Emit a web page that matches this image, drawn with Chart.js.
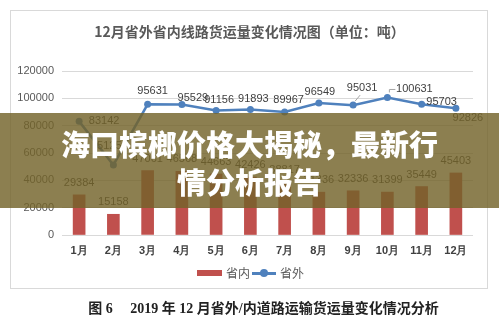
<!DOCTYPE html>
<html>
<head>
<meta charset="utf-8">
<script src="https://cdn.jsdelivr.net/npm/chart.js@4.4.1/dist/chart.umd.min.js"></script>
<style>
  body { margin: 0; background: #fff; width: 499px; height: 323px; overflow: hidden; position: relative; font-family: "Liberation Sans", "Noto Sans CJK SC", sans-serif; }
  #frame { position: absolute; left: 10px; top: 10px; width: 476px; height: 277px; border: 1px solid #d9d9d9; }
  #wrap { position: absolute; left: 0; top: 0; width: 499px; height: 290px; }
  #title { position: absolute; left: 0; top: 21px; width: 499px; text-align: center; line-height: 18px;
           font: bold 14px "Noto Sans CJK SC", sans-serif; color: #595959; }
  #legend { position: absolute; top: 265px; left: 0; width: 499px; height: 16px; font: 12px "Noto Sans CJK SC", sans-serif; color: #595959; }
  #legend span { position: absolute; top: 0; line-height: 16px; }
  #legend i { position: absolute; display: block; }
  #caption { position: absolute; left: 14px; width: 499px; top: 297px; text-align: center; white-space: pre;
             font: bold 14px "Liberation Serif", "Noto Sans CJK SC", serif; color: #222; }
  #banner { position: absolute; left: 0; top: 113px; width: 499px; height: 95px; background: rgba(115, 99, 42, 0.82);
            color: #fff; text-align: center; font: 900 29px "Noto Sans CJK SC", sans-serif; line-height: 38px; padding-top: 11px; box-sizing: border-box; }
</style>
</head>
<body>
<div id="frame"></div>
<div id="wrap"><canvas id="chart" width="499" height="290"></canvas></div>
<div id="title">12月省外省内线路货运量变化情况图（单位：吨）</div>
<div id="legend">
  <i style="left:197px; top:5px; width:25px; height:6px; background:#c0504d"></i>
  <span style="left:226px">省内</span>
  <i style="left:252px; top:7px; width:24px; height:2.5px; background:#4f81bd"></i>
  <i style="left:260px; top:4px; width:8px; height:8px; border-radius:50%; background:#4f81bd"></i>
  <span style="left:280px">省外</span>
</div>
<div id="caption">图 6     2019 年 12 月省外/内道路运输货运量变化情况分析</div>
<div id="banner">海口槟榔价格大揭秘，最新行<br>情分析报告</div>
<script>
// data
const months = ['1月', '2月', '3月', '4月', '5月', '6月', '7月', '8月', '9月', '10月', '11月', '12月'];
const inProvince = [29384, 15158, 47061, 46568, 44663, 42426, 38817, 31336, 32336, 31399, 35449, 45403];
const outProvince = [83142, 51254, 95631, 95529, 91156, 91893, 89967, 96549, 95031, 100631, 95703, 92826];
const yTicks = [0, 20000, 40000, 60000, 80000, 100000, 120000];

// where each 省外 label sits relative to its point (dx, dy)
const lineLabelOffsets = [[25, 0], [-1, -19], [5, -13], [11, -6], [3, -10], [3, -10], [4, -12], [1, -11], [9, -17], [27, -9], [20, -2], [12, 10]];

const RED = '#c0504d';
const BLUE = '#4f81bd';
const TEXT = '#595959';

// value labels over bars and points
const valueLabels = {
    id: 'valueLabels',
    afterDatasetsDraw(chart) {
        const ctx = chart.ctx;
        ctx.save();
        ctx.font = '11px "Liberation Sans", Arial, sans-serif';
        ctx.fillStyle = '#404040';
        ctx.textAlign = 'center';
        ctx.textBaseline = 'middle';
        chart.getDatasetMeta(0).data.forEach((bar, i) => {
            ctx.fillText(inProvince[i], bar.x, bar.y - 12);
        });
        chart.getDatasetMeta(1).data.forEach((pt, i) => {
            const [dx, dy] = lineLabelOffsets[i];
            if (i === 8 || i === 9) {
                // leader lines
                ctx.strokeStyle = '#a6a6a6'; ctx.lineWidth = 1;
                ctx.beginPath();
                if (i === 8) { ctx.moveTo(pt.x + 2, pt.y - 4); ctx.lineTo(pt.x + dx - 2, pt.y + dy + 7); }
                else { ctx.moveTo(pt.x + 2, pt.y - 5); ctx.lineTo(pt.x + 2, pt.y - 8); ctx.lineTo(pt.x + 8, pt.y - 8); }
                ctx.stroke();
            }
            ctx.fillText(outProvince[i], pt.x + dx, pt.y + dy);
        });
        ctx.restore();
    }
};

new Chart(document.getElementById('chart'), {
    type: 'bar',
    data: {
        labels: months,
        datasets: [{
            label: '省内',
            data: inProvince,
            backgroundColor: RED,
            barThickness: 12
        }, {
            label: '省外',
            type: 'line',
            data: outProvince,
            borderColor: BLUE,
            backgroundColor: BLUE,
            borderWidth: 2.5,
            pointRadius: 3.5,
            pointBorderWidth: 0,
            tension: 0
        }]
    },
    options: {
        responsive: false,
        animation: false,
        layout: { padding: { left: 0, right: 26, top: 71, bottom: 20 } },
        plugins: {
            tooltip: { enabled: false },
            legend: { display: false },
            title: { display: false }
        },
        scales: {
            x: {
                afterFit: s => { s.height = 35; },
                grid: { display: false, drawTicks: false },
                border: { display: false },
                ticks: { color: '#404040', font: { size: 11, weight: 'bold' }, padding: 9 }
            },
            y: {
                min: 0,
                max: 120000,
                afterFit: s => { s.width = 62; },
                afterBuildTicks: s => { s.ticks = yTicks.map(v => ({ value: v })); },
                grid: { color: '#d9d9d9', drawTicks: false },
                border: { display: false },
                ticks: { color: TEXT, font: { size: 11 }, padding: 8, callback: v => String(v) }
            }
        }
    },
    plugins: [valueLabels]
});
</script>
</body>
</html>
